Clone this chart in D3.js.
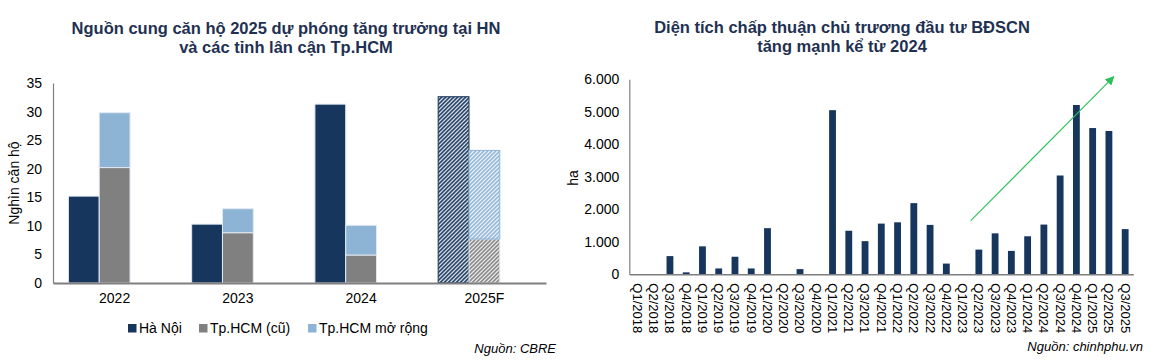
<!DOCTYPE html>
<html><head><meta charset="utf-8">
<script src="https://cdn.jsdelivr.net/npm/d3@7"></script>
<style>body{margin:0;background:#fff;} svg{font-family:"Liberation Sans",Arial,sans-serif;display:block;}</style>
</head><body><svg id="c" width="1151" height="360"></svg>
<script>
// ---------- Left chart data ----------
const years = ["2022", "2023", "2024", "2025F"];
const haNoi = [15.2, 10.3, 31.3, 32.6];
const hcmCu = [20.2, 8.8, 4.9, 7.7];
const hcmMoRong = [9.6, 4.2, 5.2, 15.5];
const forecastYears = ["2025F"];
const leftTicks = [0, 5, 10, 15, 20, 25, 30, 35];
const leftSeriesNames = ["Hà Nội", "Tp.HCM (cũ)", "Tp.HCM mở rộng"];

// ---------- Right chart data ----------
const quarters = ["Q1/2018","Q2/2018","Q3/2018","Q4/2018","Q1/2019","Q2/2019","Q3/2019","Q4/2019",
  "Q1/2020","Q2/2020","Q3/2020","Q4/2020","Q1/2021","Q2/2021","Q3/2021","Q4/2021",
  "Q1/2022","Q2/2022","Q3/2022","Q4/2022","Q1/2023","Q2/2023","Q3/2023","Q4/2023",
  "Q1/2024","Q2/2024","Q3/2024","Q4/2024","Q1/2025","Q2/2025","Q3/2025"];
const areaHa = [0, 0, 560, 60, 860, 180, 540, 180,
  1420, 0, 160, 0, 5050, 1340, 1020, 1560,
  1600, 2190, 1520, 330, 0, 760, 1260, 720,
  1170, 1530, 3040, 5210, 4500, 4410, 1390];
const rightTicks = [0, 1000, 2000, 3000, 4000, 5000, 6000];
const trendFrom = {q: "Q2/2023", frac: 0.0, v: 1650};
const trendTo = {q: "Q2/2025", frac: 0.8, v: 6080};

const NAVY = "#17365d", GRAY = "#808080", LBLUE = "#8db3d5", TITLE = "#1f3152", GREEN = "#2fbf5a";

const svg = d3.select("#c");
const defs = svg.append("defs");
function hatch(id, color) {
  const p = defs.append("pattern").attr("id", id).attr("patternUnits", "userSpaceOnUse")
    .attr("width", 4).attr("height", 4);
  p.append("rect").attr("width", 4).attr("height", 4).attr("fill", "#fff");
  p.append("path").attr("d", "M-1,1 l2,-2 M0,4 l4,-4 M3,5 l2,-2")
    .attr("stroke", color).attr("stroke-width", 1.6);
}
hatch("h-hn", NAVY); hatch("h-cu", GRAY); hatch("h-mr", LBLUE);

// ================= LEFT CHART =================
const L = svg.append("g");
L.append("text").attr("x", 286).attr("y", 34).attr("text-anchor", "middle")
  .attr("font-weight", "bold").attr("font-size", 16.5).attr("fill", TITLE)
  .text("Nguồn cung căn hộ 2025 dự phóng tăng trưởng tại HN");
L.append("text").attr("x", 286).attr("y", 53).attr("text-anchor", "middle")
  .attr("font-weight", "bold").attr("font-size", 16.5).attr("fill", TITLE)
  .text("và các tỉnh lân cận Tp.HCM");

const x0 = d3.scaleBand().domain(years).range([53, 546]);
const x1 = d3.scaleBand().domain(["hn", "hcm", "none"])
  .range([x0.bandwidth() * 0.125, x0.bandwidth() * 0.875]);
const yL = d3.scaleLinear().domain([0, 35]).range([283, 83]);

// y axis
const yAxL = L.append("g").attr("transform", "translate(53,0)")
  .call(d3.axisLeft(yL).tickValues(leftTicks).tickSize(0).tickPadding(11));
yAxL.select(".domain").attr("stroke", "#7f7f7f").attr("stroke-width", 1.2);
yAxL.selectAll("text").attr("font-size", 14).attr("fill", "#000");
L.append("text").attr("transform", "translate(19,183) rotate(-90)").attr("text-anchor", "middle")
  .attr("font-size", 14).attr("fill", "#000").text("Nghìn căn hộ");

const groups = L.selectAll(".yr").data(years).enter().append("g")
  .attr("transform", d => `translate(${x0(d)},0)`);
groups.append("rect")
  .attr("x", x1("hn")).attr("width", x1.bandwidth())
  .attr("y", (d, i) => yL(haNoi[i])).attr("height", (d, i) => yL(0) - yL(haNoi[i]))
  .attr("fill", d => forecastYears.includes(d) ? "url(#h-hn)" : NAVY)
  .attr("stroke", d => forecastYears.includes(d) ? NAVY : "#e3e9f1").attr("stroke-width", 1);
groups.append("rect")
  .attr("x", x1("hcm")).attr("width", x1.bandwidth())
  .attr("y", (d, i) => yL(hcmCu[i])).attr("height", (d, i) => yL(0) - yL(hcmCu[i]))
  .attr("fill", d => forecastYears.includes(d) ? "url(#h-cu)" : GRAY)
  .attr("stroke", "#e3e9f1").attr("stroke-width", 1);
groups.append("rect")
  .attr("x", x1("hcm")).attr("width", x1.bandwidth())
  .attr("y", (d, i) => yL(hcmCu[i] + hcmMoRong[i])).attr("height", (d, i) => yL(hcmCu[i]) - yL(hcmCu[i] + hcmMoRong[i]))
  .attr("fill", d => forecastYears.includes(d) ? "url(#h-mr)" : LBLUE)
  .attr("stroke", d => forecastYears.includes(d) ? LBLUE : "#e3e9f1").attr("stroke-width", 1);

// x axis
const xAxL = L.append("g").attr("transform", "translate(0,283)")
  .call(d3.axisBottom(x0).tickSize(0).tickPadding(10).tickSizeOuter(0));
xAxL.select(".domain").attr("stroke", "#7f7f7f").attr("stroke-width", 2.2);
xAxL.selectAll("text").attr("font-size", 14).attr("fill", "#000");

// legend
const legColors = [NAVY, GRAY, LBLUE];
const legX = [128, 199, 308];
leftSeriesNames.forEach((n, i) => {
  L.append("rect").attr("x", legX[i]).attr("y", 324).attr("width", 8.5).attr("height", 8.5).attr("fill", legColors[i]);
  L.append("text").attr("x", legX[i] + 11).attr("y", 333).attr("font-size", 14).attr("fill", "#000").text(n);
});
L.append("text").attr("x", 556).attr("y", 353).attr("text-anchor", "end").attr("font-style", "italic")
  .attr("font-size", 13).attr("fill", "#000").text("Nguồn: CBRE");

// ================= RIGHT CHART =================
const R = svg.append("g");
R.append("text").attr("x", 842).attr("y", 33).attr("text-anchor", "middle")
  .attr("font-weight", "bold").attr("font-size", 16.5).attr("fill", TITLE)
  .text("Diện tích chấp thuận chủ trương đầu tư BĐSCN");
R.append("text").attr("x", 842).attr("y", 52).attr("text-anchor", "middle")
  .attr("font-weight", "bold").attr("font-size", 16.5).attr("fill", TITLE)
  .text("tăng mạnh kể từ 2024");

const xq = d3.scaleBand().domain(quarters).range([629.3, 1133.3]).paddingInner(0.58).paddingOuter(0.29);
const xqFull = d3.scaleBand().domain(quarters).range([629.3, 1133.3]);
const yR = d3.scaleLinear().domain([0, 6000]).range([274.3, 79.3]);
const locale = d3.formatLocale({decimal: ",", thousands: ".", grouping: [3], currency: ["", ""]});
const fmt = locale.format(",");

const yAxR = R.append("g").attr("transform", "translate(629.3,0)")
  .call(d3.axisLeft(yR).tickValues(rightTicks).tickFormat(fmt).tickSize(0).tickPadding(10));
yAxR.select(".domain").attr("stroke", "#7f7f7f").attr("stroke-width", 1.2);
yAxR.selectAll("text").attr("font-size", 14).attr("fill", "#000");
R.append("text").attr("transform", "translate(578,178) rotate(-90)").attr("text-anchor", "middle")
  .attr("font-size", 14).attr("fill", "#000").text("ha");

R.selectAll(".bar").data(quarters).enter().append("rect")
  .attr("x", d => xq(d)).attr("width", xq.bandwidth())
  .attr("y", (d, i) => yR(areaHa[i])).attr("height", (d, i) => yR(0) - yR(areaHa[i]))
  .attr("fill", NAVY);

const xAxR = R.append("g").attr("transform", "translate(0,274.3)")
  .call(d3.axisBottom(xqFull).tickSize(0).tickSizeOuter(0));
xAxR.select(".domain").attr("stroke", "#7f7f7f").attr("stroke-width", 1.6);
xAxR.selectAll("text").attr("font-size", 13).attr("fill", "#000")
  .attr("transform", "rotate(90)").attr("text-anchor", "start")
  .attr("x", 9).attr("y", 0).attr("dy", "0.35em");

// trend arrow
defs.append("marker").attr("id", "arr").attr("viewBox", "0 0 10 10").attr("refX", 9).attr("refY", 5)
  .attr("markerWidth", 9).attr("markerHeight", 9).attr("markerUnits", "userSpaceOnUse").attr("orient", "auto")
  .append("path").attr("d", "M0,0 L10,5 L0,10 z").attr("fill", GREEN);
R.append("line")
  .attr("x1", xqFull(trendFrom.q) + trendFrom.frac * xqFull.bandwidth()).attr("y1", yR(trendFrom.v))
  .attr("x2", xqFull(trendTo.q) + trendTo.frac * xqFull.bandwidth()).attr("y2", yR(trendTo.v))
  .attr("stroke", GREEN).attr("stroke-width", 1.1).attr("marker-end", "url(#arr)");

R.append("text").attr("x", 1143).attr("y", 351).attr("text-anchor", "end").attr("font-style", "italic")
  .attr("font-size", 13).attr("fill", "#000").text("Nguồn: chinhphu.vn");
</script></body></html>
